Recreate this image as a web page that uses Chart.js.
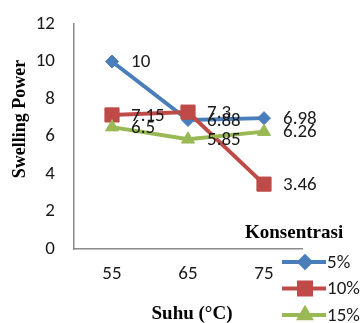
<!DOCTYPE html>
<html>
<head>
<meta charset="utf-8">
<script src="https://cdn.jsdelivr.net/npm/chart.js@4/dist/chart.umd.min.js"></script>
<style>
  html, body { margin: 0; padding: 0; background: #ffffff; }
  canvas { display: block; }
</style>
</head>
<body>
<canvas id="chart" width="363" height="323"></canvas>
<script>
// Swelling power by temperature, one line per concentration
const temperatures = ['55', '65', '75'];
const concentrations = ['5%', '10%', '15%'];
const swelling5 = [10, 6.88, 6.98];
const swelling10 = [7.15, 7.3, 3.46];
const swelling15 = [6.5, 5.85, 6.26];
const yTicks = [0, 2, 4, 6, 8, 10, 12];

const yTitle = 'Swelling Power';
const xTitle = 'Suhu (°C)';
const legendTitle = 'Konsentrasi';

const sansFont = "Carlito, Calibri, 'Liberation Sans', Arial, sans-serif";
const serifFont = "'Liberation Serif', 'Times New Roman', serif";
const textColor = '#1a1a1a';
const axisColor = '#8a8a8a';

const styles = [
  { color: '#4A7EBB', pointStyle: 'rectRot', radius: 6.5 },
  { color: '#BE4B48', pointStyle: 'rect', radius: 10 },
  { color: '#98B954', pointStyle: 'triangle', radius: 7.5 }
];
const seriesValues = [swelling5, swelling10, swelling15];

const datasets = seriesValues.map((values, i) => ({
  label: concentrations[i],
  data: values,
  borderColor: styles[i].color,
  backgroundColor: styles[i].color,
  borderWidth: 4,
  pointStyle: styles[i].pointStyle,
  pointRadius: styles[i].radius,
  pointHoverRadius: styles[i].radius,
  pointBorderWidth: 1,
  pointBackgroundColor: styles[i].color,
  pointBorderColor: styles[i].color,
  tension: 0,
  // first series drawn first, later series on top
  order: seriesValues.length - i
}));

// value printed to the right of every point
const valueLabels = {
  id: 'valueLabels',
  afterDatasetsDraw(chart) {
    const ctx = chart.ctx;
    ctx.save();
    ctx.font = `19px ${sansFont}`;
    ctx.fillStyle = textColor;
    ctx.textAlign = 'left';
    ctx.textBaseline = 'middle';
    chart.data.datasets.forEach((ds, i) => {
      const meta = chart.getDatasetMeta(i);
      meta.data.forEach((pt, j) => {
        ctx.fillText(String(ds.data[j]), pt.x + 19, pt.y + 1);
      });
    });
    ctx.restore();
  }
};

// axis captions and the line-and-marker legend on the lower right
const captions = {
  id: 'captions',
  afterDraw(chart) {
    const ctx = chart.ctx;
    ctx.save();
    ctx.fillStyle = '#000000';
    ctx.textAlign = 'center';
    ctx.textBaseline = 'middle';

    ctx.save();
    ctx.font = `bold 18px ${serifFont}`;
    ctx.translate(20, 119);
    ctx.rotate(-Math.PI / 2);
    ctx.fillText(yTitle, 0, 0);
    ctx.restore();

    ctx.font = `bold 19px ${serifFont}`;
    ctx.fillText(xTitle, 192, 314);

    ctx.textAlign = 'left';
    ctx.fillText(legendTitle, 245, 233);

    chart.data.datasets.forEach((ds, i) => {
      const y = 262 + i * 26.5;
      ctx.strokeStyle = ds.borderColor;
      ctx.lineWidth = 4;
      ctx.beginPath();
      ctx.moveTo(282, y);
      ctx.lineTo(326, y);
      ctx.stroke();
      ctx.fillStyle = ds.backgroundColor;
      Chart.helpers.drawPoint(ctx, {
        pointStyle: ds.pointStyle,
        radius: ds.pointRadius * 0.85,
        borderWidth: 1,
        rotation: 0
      }, 305, y);
      ctx.fillStyle = textColor;
      ctx.font = `19px ${sansFont}`;
      ctx.textBaseline = 'middle';
      ctx.fillText(ds.label, 327, y + 1);
    });
    ctx.restore();
  }
};

new Chart(document.getElementById('chart'), {
  type: 'line',
  data: { labels: temperatures, datasets },
  plugins: [valueLabels, captions],
  options: {
    responsive: false,
    animation: false,
    events: [],
    layout: { padding: { top: 24, right: 61, left: 0, bottom: 0 } },
    plugins: {
      legend: { display: false },
      tooltip: { enabled: false },
      title: { display: false }
    },
    scales: {
      x: {
        type: 'category',
        offset: true,
        grid: { display: false, drawTicks: false },
        border: { display: true, color: axisColor, width: 1.5 },
        ticks: {
          color: textColor,
          font: { family: sansFont, size: 19 },
          padding: 14
        },
        afterFit(scale) {
          scale.height = 74;
          scale.paddingLeft = 0;
          scale.paddingRight = 0;
        }
      },
      y: {
        min: 0,
        max: 12,
        grid: { display: false, drawTicks: false },
        border: { display: true, color: axisColor, width: 1.5 },
        ticks: {
          color: textColor,
          font: { family: sansFont, size: 19 },
          padding: 19
        },
        afterBuildTicks(scale) {
          scale.ticks = yTicks.map(v => ({ value: v }));
        },
        afterFit(scale) {
          scale.width = 74;
          scale.paddingTop = 0;
          scale.paddingBottom = 0;
        }
      }
    }
  }
});
</script>
</body>
</html>
